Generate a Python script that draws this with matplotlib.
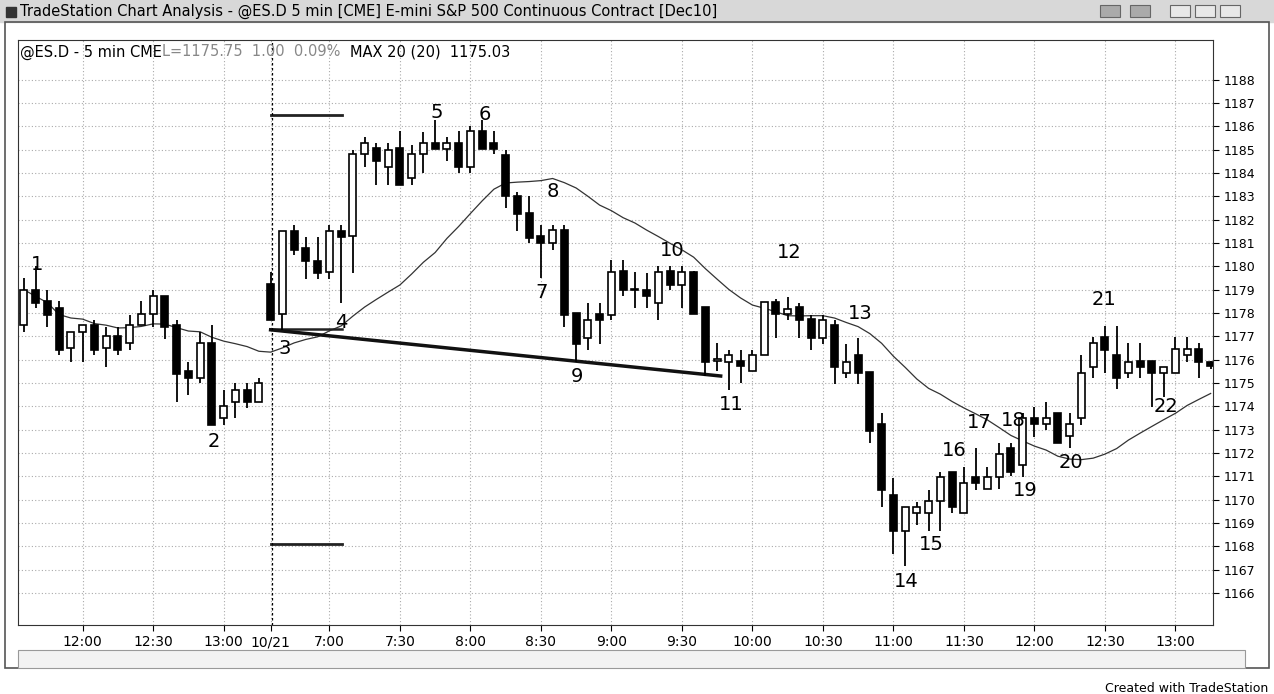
import matplotlib
matplotlib.use("Agg")
import matplotlib.pyplot as plt
from matplotlib.patches import Rectangle
import numpy as np
import pandas as pd

opens  = [1177.5,1179.0,1178.5,1178.2,1176.5,1177.2,1177.5,1176.5,1177.0,1176.7,1177.5,1177.95,1178.74,1177.5,1175.5,1175.2,1176.7,1173.5,1174.2,1174.7,1174.2,
          1179.24,1177.96,1181.5,1180.78,1180.25,1179.74,1181.5,1181.28,1184.81,1185.07,1184.25,1185.07,1183.78,1184.8,1185.28,1185.03,1185.28,1184.25,1185.78,1185.28,1184.78,1183.03,
          1182.28,1181.28,1181.0,1181.54,1177.99,1176.92,1177.96,1177.92,1179.78,1179.02,1178.99,1178.45,1179.78,1179.21,1179.74,1178.24,1175.96,1175.92,1175.95,1175.5,1176.21,
          1178.49,1177.95,1178.25,1177.73,1176.92,1177.49,1175.45,1176.2,1175.49,1173.24,1170.2,1168.67,1169.45,1169.45,1169.96,1171.2,1169.45,1170.96,1170.45,1170.96,1172.2,
          1171.49,1173.49,1173.24,1173.73,1172.73,1173.49,1175.67,1176.96,1176.2,1175.45,1175.96,1175.96,1175.45,1175.45,1176.2,1176.45,1175.92]
highs  = [1179.5,1180.0,1179.0,1178.5,1177.2,1177.5,1177.7,1177.4,1177.4,1177.9,1178.5,1179.0,1178.74,1177.7,1175.9,1177.2,1177.5,1174.7,1175.0,1175.0,1175.2,
          1179.74,1181.5,1181.78,1181.24,1181.24,1181.78,1181.78,1185.0,1185.53,1185.28,1185.28,1185.78,1185.2,1185.74,1186.28,1185.53,1185.78,1186.03,1186.28,1185.78,1185.0,1183.2,
          1183.0,1181.78,1181.78,1181.78,1177.99,1178.45,1178.45,1180.28,1180.28,1179.74,1179.71,1180.0,1180.0,1180.0,1179.78,1178.24,1176.7,1176.42,1176.42,1176.42,1178.49,
          1178.6,1178.7,1178.42,1177.92,1177.92,1177.68,1176.68,1176.92,1175.49,1173.7,1170.92,1169.7,1169.92,1170.42,1171.17,1171.2,1171.42,1172.2,1171.42,1172.42,1172.42,
          1173.7,1173.99,1174.2,1173.73,1173.73,1176.2,1176.96,1177.45,1177.45,1176.7,1176.7,1175.96,1175.67,1176.96,1176.96,1176.7,1175.96]
lows   = [1177.2,1178.2,1177.4,1176.2,1175.9,1175.9,1176.2,1175.7,1176.2,1176.4,1177.5,1177.4,1176.9,1174.2,1174.5,1175.0,1173.2,1173.2,1173.5,1173.95,1174.2,
          1177.68,1177.28,1180.47,1179.45,1179.45,1179.45,1178.42,1179.7,1184.25,1183.5,1183.5,1183.5,1183.5,1184.0,1185.03,1184.5,1184.0,1184.0,1185.03,1184.8,1182.5,1181.5,
          1181.0,1179.5,1180.71,1177.42,1175.92,1176.42,1176.68,1177.71,1178.71,1178.2,1178.2,1177.71,1178.97,1178.2,1177.95,1175.28,1175.5,1174.7,1174.99,1175.5,1176.21,
          1176.92,1177.7,1176.92,1176.42,1176.68,1174.96,1175.2,1174.96,1172.42,1169.7,1167.67,1167.16,1168.92,1168.67,1168.67,1169.45,1169.45,1170.42,1170.45,1170.45,1171.0,
          1170.99,1172.7,1172.99,1172.42,1172.2,1173.2,1175.2,1175.42,1174.73,1175.2,1175.2,1173.99,1174.42,1175.45,1175.92,1175.2,1175.6]
closes = [1179.0,1178.43,1177.9,1176.4,1177.2,1177.5,1176.4,1177.0,1176.4,1177.5,1177.95,1178.74,1177.4,1175.4,1175.2,1176.7,1173.2,1174.0,1174.7,1174.2,1175.0,
          1177.68,1181.5,1180.7,1180.21,1179.71,1181.5,1181.24,1184.81,1185.28,1184.5,1185.0,1183.5,1184.8,1185.28,1185.03,1185.28,1184.25,1185.78,1185.03,1185.03,1183.0,1182.25,
          1181.2,1181.0,1181.54,1177.92,1176.68,1177.7,1177.71,1179.74,1178.97,1178.97,1178.71,1179.74,1179.21,1179.74,1177.95,1175.92,1176.0,1176.21,1175.71,1176.21,1178.49,
          1177.95,1178.16,1177.7,1176.92,1177.7,1175.67,1175.92,1175.45,1172.96,1170.42,1168.67,1169.7,1169.67,1169.96,1170.96,1169.7,1170.7,1170.7,1170.96,1171.96,1171.2,
          1173.49,1173.24,1173.49,1172.42,1173.24,1175.45,1176.7,1176.42,1175.2,1175.92,1175.67,1175.45,1175.67,1176.45,1176.45,1175.92,1175.75]

tick_idx = [5, 11, 17, 21, 26, 32, 38, 44, 50, 56, 62, 68, 74, 80, 86, 92, 98]
tick_lbl = ["12:00","12:30","13:00","10/21","7:00","7:30","8:00","8:30","9:00","9:30",
            "10:00","10:30","11:00","11:30","12:00","12:30","13:00"]

labels = ["1","2","3","4","5","6","7","8","9","10","11","12","13","14","15","16","17","18","19","20","21","22"]
label_x = [1.1,16.2,22.2,27.0,35.1,39.2,44.1,45.0,47.1,55.2,60.2,65.1,71.2,75.1,77.2,79.2,81.3,84.2,85.2,89.1,91.9,97.2]
label_y = [1180.1,1172.5,1176.5,1177.6,1186.6,1186.5,1178.9,1183.2,1175.3,1180.7,1174.1,1180.6,1178.0,1166.5,1168.1,1172.1,1173.3,1173.4,1170.4,1171.6,1178.6,1174.0]

ma = pd.Series(closes).rolling(20, min_periods=1).mean().values

fig = plt.figure(figsize=(12.74, 6.94), dpi=100)
fig.patch.set_facecolor("white")
# window chrome
fig.patches.append(Rectangle((0, 1-22/694), 1, 22/694, transform=fig.transFigure, color="#d8d8d8", zorder=0))
fig.patches.append(Rectangle((0.004, 0.037), 0.992, 1-0.037-22/694, transform=fig.transFigure,
                             fill=False, ec="#555555", lw=1.2, zorder=0))
fig.patches.append(Rectangle((6/1274, 1-17/694), 10/1274, 10/694, transform=fig.transFigure, color="#333333"))
fig.text(20/1274, 1-11/694, "TradeStation Chart Analysis - @ES.D 5 min [CME] E-mini S&P 500 Continuous Contract [Dec10]",
         fontsize=10.5, va="center", ha="left")
for xx in [1100, 1130, 1170, 1195, 1220]:
    fig.patches.append(Rectangle((xx/1274, 1-17/694), 20/1274, 12/694, transform=fig.transFigure,
                                 fc="#aaaaaa" if xx < 1150 else "#e8e8e8", ec="#666666", lw=0.8))
fig.text(20/1274, 1-52/694, "@ES.D - 5 min CME", fontsize=10.5, va="center")
fig.text(162/1274, 1-52/694, "L=1175.75  1.00  0.09%", fontsize=10.5, va="center", color="#888888")
fig.text(350/1274, 1-52/694, "MAX 20 (20)  1175.03", fontsize=10.5, va="center")
# scrollbar
fig.patches.append(Rectangle((18/1274, 1-668/694), (1245-18)/1274, 18/694, transform=fig.transFigure,
                             fc="#f2f2f2", ec="#999999", lw=0.8))
fig.text(1-6/1274, 1-688/694, "Created with TradeStation", fontsize=9, ha="right", va="center")

ax = fig.add_axes([18/1274, 69/694, (1213-18)/1274, 585/694])
n = len(closes)
x = np.arange(n)
ax.vlines(x, lows, highs, color="black", lw=1.3, zorder=3)
o = np.array(opens); c = np.array(closes)
bottom = np.minimum(o, c)
height = np.maximum(np.abs(c - o), 0.06)
face = ["white" if cc > oo else "black" for oo, cc in zip(o, c)]
ax.bar(x, height, bottom=bottom, width=0.6, color=face, edgecolor="black", lw=1.2, zorder=4)
ax.plot(x, ma, color="#333333", lw=0.9, zorder=2)

# annotations lines
ax.plot([21, 27.1], [1186.5, 1186.5], color="#222222", lw=2)
ax.plot([21, 27.1], [1168.1, 1168.1], color="#222222", lw=2)
ax.plot([21, 27.1], [1177.3, 1177.3], color="#222222", lw=1.8)
ax.plot([21, 59.3], [1177.28, 1175.3], color="#111111", lw=2.5)
ax.axvline(21.1, color="black", lw=0.9, ls=(0, (2, 2)))

for t, lx, ly in zip(labels, label_x, label_y):
    ax.text(lx, ly, t, fontsize=14, ha="center", va="center", zorder=6,
            bbox=dict(fc="white", ec="none", pad=0.5, alpha=0.0))

ax.set_xlim(-0.5, 101.2)
ax.set_ylim(1164.63, 1189.7)
ax.set_yticks(np.arange(1166, 1189))
ax.yaxis.tick_right()
ax.tick_params(axis="y", labelsize=9, length=4, direction="out")
ax.set_xticks(tick_idx)
ax.set_xticklabels(tick_lbl, fontsize=10)
ax.tick_params(axis="x", length=4, direction="out")
ax.grid(True, color="#aaaaaa", ls=(0, (1, 2)), lw=0.8)
ax.set_axisbelow(True)
for s in ax.spines.values():
    s.set_color("#333333")

fig.savefig("out.png", dpi=100)
